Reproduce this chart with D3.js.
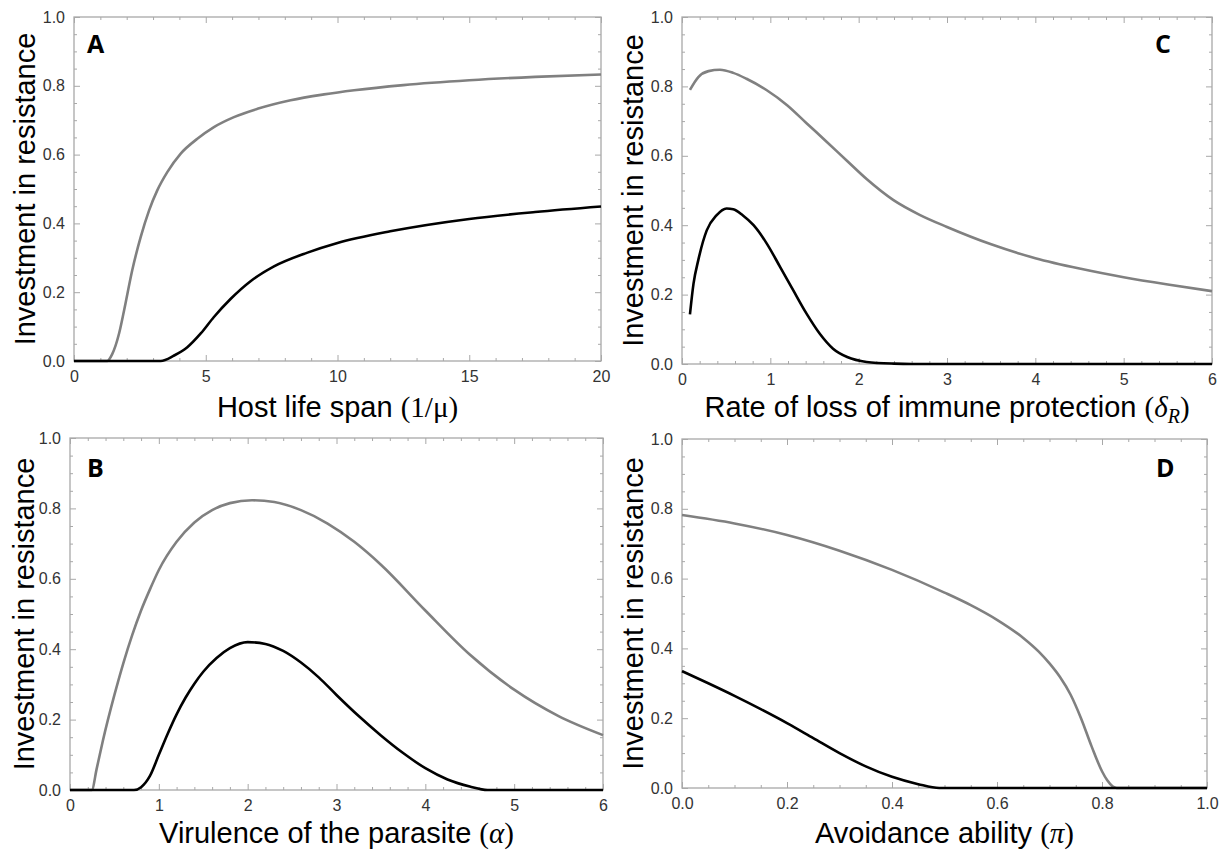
<!DOCTYPE html>
<html><head><meta charset="utf-8">
<script src="https://cdn.jsdelivr.net/npm/d3@7/dist/d3.min.js"></script>
<style>body{margin:0;background:#fff}</style></head>
<body>
<svg id="chart" width="1227" height="857"></svg>
<script>
// ---------- data ----------
const yTicks = [0, 0.2, 0.4, 0.6, 0.8, 1.0];
const yLabel = "Investment in resistance";

// Panel A: host life span
const A_xTicks = [0, 5, 10, 15, 20];
const A_grey = [[0,0],[1.26,0],[1.45,0.02],[1.71,0.08],[1.9,0.147],[2.21,0.264],[2.53,0.36],[2.85,0.438],[3.16,0.496],[3.54,0.549],[4.05,0.603],[4.68,0.646],[5.31,0.68],[6.07,0.709],[6.96,0.733],[8.22,0.758],[9.49,0.775],[10.63,0.787],[12.5,0.802],[15,0.816],[17.5,0.826],[20,0.833]];
const A_black = [[0,0],[3.29,0],[3.8,0.016],[4.3,0.04],[4.81,0.08],[5.31,0.128],[5.95,0.181],[6.7,0.232],[7.59,0.275],[8.86,0.315],[10,0.343],[12,0.377],[15,0.413],[17.5,0.433],[20,0.449]];

// Panel C: rate of loss of immune protection
const C_xTicks = [0, 1, 2, 3, 4, 5, 6];
const C_grey = [[0.09,0.79],[0.185,0.827],[0.3,0.844],[0.43,0.848],[0.58,0.839],[0.73,0.822],[0.96,0.789],[1.19,0.746],[1.41,0.694],[1.64,0.64],[1.87,0.585],[2.09,0.533],[2.39,0.473],[2.69,0.43],[3.0,0.395],[3.5,0.345],[4.0,0.305],[4.5,0.275],[5.0,0.25],[5.5,0.229],[6.0,0.21]];
const C_black = [[0.09,0.143],[0.13,0.231],[0.185,0.3],[0.28,0.385],[0.39,0.428],[0.505,0.448],[0.58,0.446],[0.69,0.428],[0.81,0.4],[0.96,0.347],[1.11,0.28],[1.26,0.212],[1.41,0.145],[1.56,0.087],[1.71,0.044],[1.87,0.02],[2.09,0.006],[2.4,0.001],[2.6,0],[6,0]];

// Panel B: virulence of the parasite
const B_xTicks = [0, 1, 2, 3, 4, 5, 6];
const B_grey = [[0,0],[0.245,0],[0.3,0.06],[0.37,0.14],[0.5,0.27],[0.6,0.36],[0.7,0.44],[0.8,0.51],[0.9,0.57],[1.0,0.625],[1.2,0.705],[1.4,0.76],[1.6,0.795],[1.8,0.815],[2.05,0.823],[2.3,0.818],[2.6,0.795],[2.9,0.757],[3.2,0.705],[3.5,0.64],[4.0,0.51],[4.5,0.385],[5.0,0.285],[5.5,0.21],[6.0,0.156]];
const B_black = [[0,0],[0.72,0],[0.8,0.008],[0.9,0.04],[1.0,0.1],[1.1,0.16],[1.2,0.215],[1.3,0.262],[1.4,0.302],[1.5,0.336],[1.65,0.375],[1.8,0.403],[2.0,0.42],[2.2,0.415],[2.4,0.395],[2.6,0.362],[2.8,0.32],[3.0,0.27],[3.25,0.21],[3.5,0.155],[3.75,0.105],[4.0,0.062],[4.25,0.03],[4.5,0.01],[4.7,0],[6,0]];

// Panel D: avoidance ability
const D_xTicks = [0, 0.2, 0.4, 0.6, 0.8, 1.0];
const D_grey = [[0,0.782],[0.1,0.758],[0.2,0.725],[0.3,0.68],[0.4,0.625],[0.5,0.56],[0.55,0.524],[0.6,0.482],[0.65,0.43],[0.68,0.39],[0.7,0.357],[0.72,0.318],[0.74,0.268],[0.76,0.2],[0.78,0.12],[0.8,0.048],[0.81,0.022],[0.82,0.005],[0.828,0],[1,0]];
const D_black = [[0,0.335],[0.05,0.3],[0.1,0.264],[0.15,0.226],[0.2,0.186],[0.25,0.143],[0.3,0.1],[0.35,0.062],[0.4,0.032],[0.45,0.011],[0.49,0],[1,0]];

// ---------- layout ----------
const panels = [
  {id:"A", box:[74,17,601,361], xDom:[0,20], xTicks:A_xTicks, xMinor:1, fmt:d3.format("d"), grey:A_grey, black:A_black,
   letter:[87,53], yTitleX:35, xTitleY:417},
  {id:"C", box:[682,17,1212,364], xDom:[0,6], xTicks:C_xTicks, xMinor:0.2, fmt:d3.format("d"), grey:C_grey, black:C_black,
   letter:[1155,53], yTitleX:643, xTitleY:417},
  {id:"B", box:[70,438,603,790], xDom:[0,6], xTicks:B_xTicks, xMinor:0.2, fmt:d3.format("d"), grey:B_grey, black:B_black,
   letter:[87,477], yTitleX:34, xTitleY:843},
  {id:"D", box:[682,439,1207,788], xDom:[0,1], xTicks:D_xTicks, xMinor:0.05, fmt:d3.format(".1f"), grey:D_grey, black:D_black,
   letter:[1156,477], yTitleX:643, xTitleY:843}
];

const svg = d3.select("#chart");
const frameCol = "#a8a8a8";
const sans = "'Liberation Sans', Arial, sans-serif";
const serif = "'Liberation Serif', 'Times New Roman', serif";

panels.forEach(p => {
  const [x0,y0,x1,y1] = p.box;
  const x = d3.scaleLinear().domain(p.xDom).range([x0,x1]);
  const y = d3.scaleLinear().domain([0,1]).range([y1,y0]);
  const g = svg.append("g");

  const xMinorVals = d3.range(p.xDom[0], p.xDom[1] + 1e-9, p.xMinor).filter(v => !p.xTicks.some(t => Math.abs(t-v) < 1e-6));
  const yMinorVals = d3.range(0, 1 + 1e-9, 0.05).filter(v => !yTicks.some(t => Math.abs(t-v) < 1e-6));

  const axB = d3.axisBottom(x).tickValues(p.xTicks).tickSize(-6).tickFormat(p.fmt).tickPadding(10);
  const axBm = d3.axisBottom(x).tickValues(xMinorVals).tickSize(-3).tickFormat("");
  const axT = d3.axisTop(x).tickValues(p.xTicks).tickSize(-6).tickFormat("");
  const axTm = d3.axisTop(x).tickValues(xMinorVals).tickSize(-3).tickFormat("");
  const axL = d3.axisLeft(y).tickValues(yTicks).tickSize(-6).tickFormat(d3.format(".1f")).tickPadding(9);
  const axLm = d3.axisLeft(y).tickValues(yMinorVals).tickSize(-3).tickFormat("");
  const axR = d3.axisRight(y).tickValues(yTicks).tickSize(-6).tickFormat("");
  const axRm = d3.axisRight(y).tickValues(yMinorVals).tickSize(-3).tickFormat("");

  [[axB,`translate(0,${y1})`],[axBm,`translate(0,${y1})`],[axT,`translate(0,${y0})`],[axTm,`translate(0,${y0})`],
   [axL,`translate(${x0},0)`],[axLm,`translate(${x0},0)`],[axR,`translate(${x1},0)`],[axRm,`translate(${x1},0)`]].forEach(([ax,tr]) => {
    const a = g.append("g").attr("transform", tr).call(ax);
    a.select(".domain").remove();
    a.selectAll(".tick line").attr("stroke", frameCol).attr("stroke-width", 1);
    a.selectAll(".tick text").attr("font-family", sans).attr("font-size", 16).attr("fill", "#333");
  });

  g.append("rect").attr("x", x0).attr("y", y0).attr("width", x1-x0).attr("height", y1-y0)
    .attr("fill", "none").attr("stroke", frameCol).attr("stroke-width", 1.3);

  const line = d3.line().x(d => x(d[0])).y(d => y(d[1])).curve(d3.curveMonotoneX);
  g.append("path").datum(p.grey).attr("d", line).attr("fill", "none").attr("stroke", "#808080").attr("stroke-width", 2.6);
  g.append("path").datum(p.black).attr("d", line).attr("fill", "none").attr("stroke", "#000").attr("stroke-width", 2.6);

  g.append("text").attr("x", p.letter[0]).attr("y", p.letter[1]).text(p.id)
    .attr("font-family", "'Open Sans', 'Liberation Sans', sans-serif").attr("font-weight", 700).attr("font-size", 25).attr("fill", "#000");

  g.append("text").attr("transform", `translate(${p.yTitleX},${(y0+y1)/2}) rotate(-90)`).attr("text-anchor", "middle")
    .attr("font-family", sans).attr("font-size", 29).attr("fill", "#000").text(yLabel);

  const t = g.append("text").attr("x", (x0+x1)/2).attr("y", p.xTitleY).attr("text-anchor", "middle")
    .attr("font-family", sans).attr("font-size", 29).attr("fill", "#000");
  if (p.id === "A") {
    t.append("tspan").text("Host life span ");
    t.append("tspan").attr("font-family", serif).text("(1/\u03BC)");
  } else if (p.id === "C") {
    t.append("tspan").text("Rate of loss of immune protection ");
    t.append("tspan").attr("font-family", serif).text("(");
    t.append("tspan").attr("font-family", serif).attr("font-style", "italic").text("\u03B4");
    t.append("tspan").attr("font-family", serif).attr("font-style", "italic").attr("font-size", 20).attr("dy", 6).text("R");
    t.append("tspan").attr("font-family", serif).attr("dy", -6).text(")");
  } else {
    t.append("tspan").text(p.id === "B" ? "Virulence of the parasite " : "Avoidance ability ");
    t.append("tspan").attr("font-family", serif).text("(");
    t.append("tspan").attr("font-family", serif).attr("font-style", "italic").text(p.id === "B" ? "\u03B1" : "\u03C0");
    t.append("tspan").attr("font-family", serif).text(")");
  }
});
</script>
</body></html>
